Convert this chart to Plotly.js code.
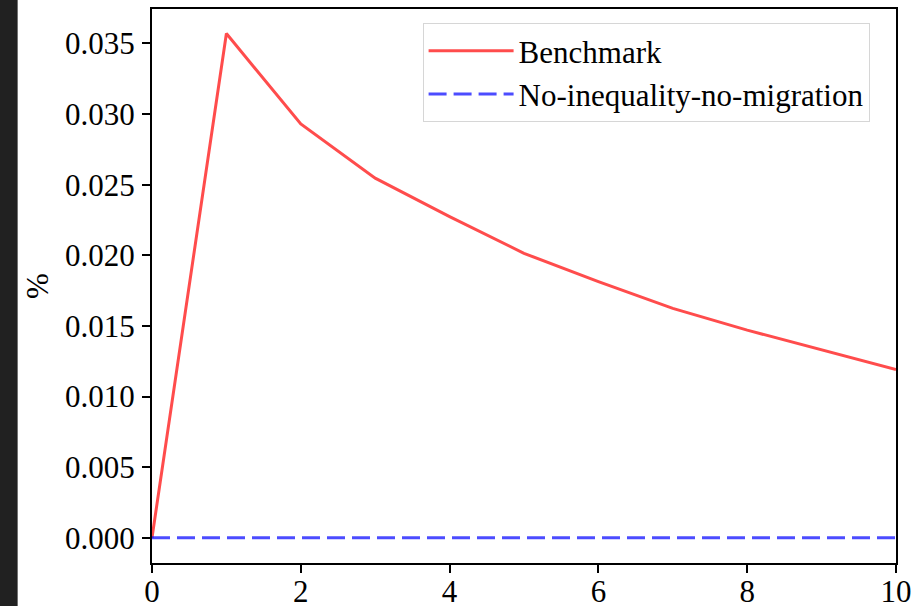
<!DOCTYPE html>
<html>
<head>
<meta charset="utf-8">
<script src="https://cdn.plot.ly/plotly-3.0.1.min.js"></script>
<style>
html, body { margin: 0; padding: 0; background: #ffffff; }
#chart { width: 911px; height: 606px; }
</style>
</head>
<body>
<div id="chart"></div>
<script>
const periods = [0, 1, 2, 3, 4, 5, 6, 7, 8, 9, 10];
const benchmark = [0.0, 0.0357, 0.0293, 0.02546, 0.02274, 0.02014, 0.01813, 0.01624, 0.0147, 0.01328, 0.01191];
const noInequality = [0, 0, 0, 0, 0, 0, 0, 0, 0, 0, 0];
const seriesNames = ["Benchmark", "No-inequality-no-migration"];
const yLabel = "%";

const fontFam = "Liberation Serif, Times New Roman, serif";
const fs = 31;

const traces = [
  {
    x: periods, y: benchmark, name: seriesNames[0], mode: "lines",
    line: { color: "rgba(255,0,0,0.7)", width: 3 }
  },
  {
    x: periods, y: noInequality, name: seriesNames[1], mode: "lines",
    line: { color: "rgba(0,0,255,0.7)", width: 3, dash: "18px,7px" }
  }
];

const layout = {
  width: 911, height: 606,
  margin: { l: 152, r: 15, t: 9, b: 43, pad: 0 },
  paper_bgcolor: "#ffffff", plot_bgcolor: "#ffffff",
  font: { family: fontFam, size: fs, color: "#000000" },
  showlegend: true,
  legend: {
    x: 0.3637, y: 0.9747, xanchor: "left", yanchor: "top",
    itemwidth: 85,
    bgcolor: "rgba(255,255,255,0.8)", bordercolor: "#d6d6d6", borderwidth: 1,
    font: { family: fontFam, size: fs, color: "#000000" }
  },
  xaxis: {
    range: [0, 10], dtick: 2, tick0: 0,
    showgrid: false, zeroline: false,
    showline: true, mirror: true, linecolor: "#000000", linewidth: 2,
    ticks: "outside", ticklen: 8, tickwidth: 2, tickcolor: "#000000",
    ticklabelstandoff: -8, ticklabeloverflow: "allow",
    tickfont: { family: fontFam, size: fs, color: "#000000" }
  },
  yaxis: {
    range: [-0.00179, 0.03744], dtick: 0.005, tick0: 0, tickformat: ".3f",
    showgrid: false, zeroline: false,
    showline: true, mirror: true, linecolor: "#000000", linewidth: 2,
    ticks: "outside", ticklen: 8, tickwidth: 2, tickcolor: "#000000",
    ticklabelstandoff: 1,
    tickfont: { family: fontFam, size: fs, color: "#000000" },
    title: { text: yLabel, standoff: 7, font: { family: fontFam, size: fs, color: "#000000" } }
  },
  shapes: [
    {
      type: "rect", xref: "paper", yref: "paper",
      x0: -0.2049, x1: -0.1806, y0: -0.08, y1: 1.02,
      fillcolor: "#212121", line: { width: 0 }, layer: "below"
    }
  ]
};

Plotly.newPlot("chart", traces, layout, { displayModeBar: false, staticPlot: true });
</script>
</body>
</html>
